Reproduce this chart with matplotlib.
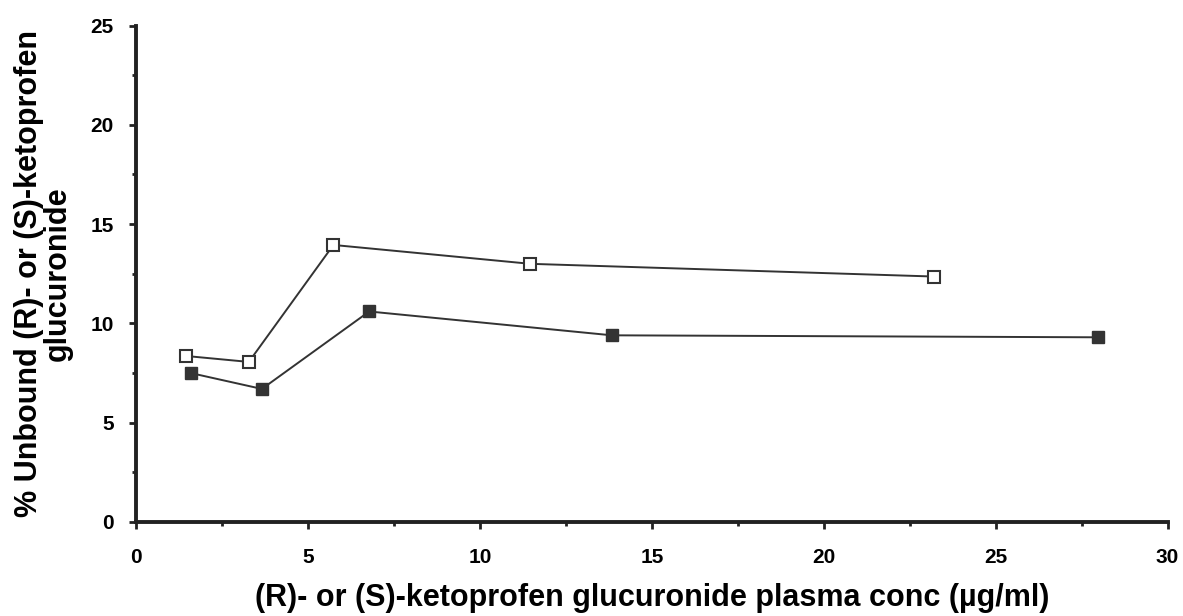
import numpy as np
import matplotlib.pyplot as plt
from matplotlib.ticker import MultipleLocator

plt.rcParams['font.family'] = ['Liberation Sans', 'DejaVu Sans']

# open squares (upper series)
x_open = [1.45, 3.28, 5.74, 11.47, 23.2]
y_open = [8.36, 8.06, 13.95, 13.0, 12.36]

# filled squares (lower series)
x_filled = [1.59, 3.66, 6.78, 13.84, 27.97]
y_filled = [7.50, 6.70, 10.60, 9.40, 9.30]

xticks = [0, 5, 10, 15, 20, 25, 30]
yticks = [0, 5, 10, 15, 20, 25]

fig = plt.figure(figsize=(11.83, 6.16), dpi=100)
ax = fig.add_axes([0.115, 0.1526, 0.872, 0.806])

ax.plot(x_open, y_open, '-', color='#333333', lw=1.4, marker='s', ms=9,
        mfc='white', mec='#333333', mew=1.5)
ax.plot(x_filled, y_filled, '-', color='#333333', lw=1.4, marker='s', ms=9,
        mfc='#333333', mec='#333333')

ax.set_xlim(0, 30)
ax.set_ylim(0, 25)
ax.set_xticks(xticks)
ax.set_yticks(yticks)
ax.xaxis.set_minor_locator(MultipleLocator(2.5))
ax.yaxis.set_minor_locator(MultipleLocator(2.5))

for s in ['top', 'right']:
    ax.spines[s].set_visible(False)
for s in ['left', 'bottom']:
    ax.spines[s].set_linewidth(2.8)
    ax.spines[s].set_color('#222222')

ax.tick_params(axis='both', which='both', direction='out', color='#222222',
               width=2, labelsize=15)
ax.tick_params(axis='both', which='major', length=5)
ax.tick_params(axis='both', which='minor', length=3)
ax.tick_params(axis='x', pad=14)
ax.tick_params(axis='y', pad=11)
for lab in ax.get_xticklabels() + ax.get_yticklabels():
    lab.set_fontweight('bold')

ax.set_xlabel('(R)- or (S)-ketoprofen glucuronide plasma conc (µg/ml)',
              fontsize=22, fontweight='bold', labelpad=11)
ax.set_ylabel('% Unbound (R)- or (S)-ketoprofen\nglucuronide',
              fontsize=22, fontweight='bold', labelpad=13, linespacing=0.92)

fig.savefig('out.png', dpi=100)
